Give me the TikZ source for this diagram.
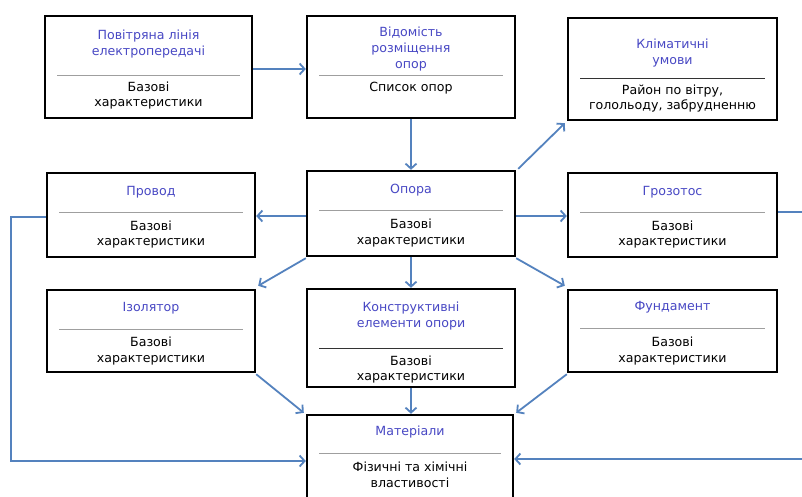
\documentclass[tikz,border=0pt]{standalone}
\usepackage{fontspec}
\newfontfamily\dvs{DejaVu Sans}
\usetikzlibrary{arrows.meta}
\definecolor{titleblue}{RGB}{72,72,196}
\definecolor{arrowblue}{RGB}{84,130,190}
\tikzset{
  box/.style={draw=black, line width=2.4pt, inner sep=0pt, fill=white},
  ttl/.style={text=titleblue, align=center, inner sep=0pt, font=\dvs\fontsize{12.6}{16}\selectfont},
  bdy/.style={text=black, align=center, inner sep=0pt, font=\dvs\fontsize{12.6}{15.5}\selectfont},
  sepline/.style={draw=gray!75, line width=0.9pt},
  sepdark/.style={draw=black!80, line width=0.9pt},
  arr/.style={draw=arrowblue, line width=1.8pt, -{Straight Barb[length=5pt,width=11pt,line width=1.8pt]}},
}
\begin{document}
\begin{tikzpicture}[x=1pt,y=-1pt]
\clip (0,0) rectangle (802,496);
\fill[white] (0,0) rectangle (802,496);
% boxes
\node[box, minimum width=207pt, minimum height=102pt] (A) at (148.5,67) {};
\node[box, minimum width=208pt, minimum height=102pt] (B) at (411,67) {};
\node[box, minimum width=209pt, minimum height=102pt] (C) at (672.5,69) {};
\node[box, minimum width=208pt, minimum height=84pt] (P) at (151,215) {};
\node[box, minimum width=208pt, minimum height=85pt] (O) at (411,213.5) {};
\node[box, minimum width=209pt, minimum height=84pt] (G) at (672.5,215) {};
\node[box, minimum width=208pt, minimum height=82pt] (I) at (151,331) {};
\node[box, minimum width=208pt, minimum height=98pt] (K) at (411,338) {};
\node[box, minimum width=209pt, minimum height=82pt] (F) at (672.5,331) {};
\node[box, minimum width=206pt, minimum height=90pt] (M) at (410,460) {};
% texts
\node[ttl] (At) at (148.5,44.5) {Повітряна лінія\\електропередачі};
\draw[sepline] (57,75) -- (240,75);
\node[bdy] (Ab) at (148.5,95.5) {Базові\\характеристики};

\node[ttl] (Bt) at (411,49) {Відомість\\розміщення\\опор};
\draw[sepline] (319,75) -- (503,75);
\node[bdy] (Bb) at (411,88) {Список опор};

\node[ttl] (Ct) at (672.5,53.5) {Кліматичні\\умови};
\draw[sepdark] (580,78) -- (765,78);
\node[bdy] (Cb) at (672.5,98.5) {Район по вітру,\\голольоду, забрудненню};

\node[ttl] (Pt) at (151,192) {Провод};
\draw[sepline] (59,212) -- (243,212);
\node[bdy] (Pb) at (151,234.5) {Базові\\характеристики};

\node[ttl] (Ot) at (411,190) {Опора};
\draw[sepline] (319,210) -- (503,210);
\node[bdy] (Ob) at (411,233) {Базові\\характеристики};

\node[ttl] (Gt) at (672.5,192) {Грозотос};
\draw[sepline] (580,212) -- (765,212);
\node[bdy] (Gb) at (672.5,234.5) {Базові\\характеристики};

\node[ttl] (It) at (151,308) {Ізолятор};
\draw[sepline] (59,329) -- (243,329);
\node[bdy] (Ib) at (151,351) {Базові\\характеристики};

\node[ttl] (Kt) at (411,316) {Конструктивні\\елементи опори};
\draw[sepdark] (319,348) -- (503,348);
\node[bdy] (Kb) at (411,369.5) {Базові\\характеристики};

\node[ttl] (Ft) at (672.5,307) {Фундамент};
\draw[sepline] (580,328) -- (765,328);
\node[bdy] (Fb) at (672.5,351) {Базові\\характеристики};

\node[ttl] (Mt) at (410,432) {Матеріали};
\draw[sepline] (319,453) -- (501,453);
\node[bdy] (Mb) at (410,475) {Фізичні та хімічні\\властивості};
% connectors
\draw[arr] ([shift={(0,2)}]A.east) -- ([shift={(0,2)}]B.west);
\draw[arr] (B.south) -- (O.north);
\draw[arr] ([shift={(2,-1)}]O.north east) -- ([shift={(-2,2)}]C.south west);
\draw[arr] ([shift={(0,2.5)}]O.west) -- ([shift={(0,1)}]P.east);
\draw[arr] ([shift={(0,2.5)}]O.east) -- ([shift={(0,1)}]G.west);
\draw[arr] ([shift={(0,1)}]O.south west) -- ([shift={(2,-3)}]I.north east);
\draw[arr] (O.south) -- (K.north);
\draw[arr] ([shift={(0,1)}]O.south east) -- ([shift={(-2,-3)}]F.north west);
\draw[arr] ([shift={(0,1)}]I.south east) -- ([shift={(-2,-1)}]M.north west);
\draw[arr] (K.south) -- (K.south |- M.north);
\draw[arr] ([shift={(0,1)}]F.south west) -- ([shift={(2,-1)}]M.north east);
\draw[arr] ([shift={(0,2)}]P.west) -- ++(-35,0) |- ([shift={(0,1)}]M.west);
\draw[arr] ([shift={(0,-3)}]G.east) -- ++(40,0) |- ([shift={(0,-1)}]M.east);
\end{tikzpicture}
\end{document}
